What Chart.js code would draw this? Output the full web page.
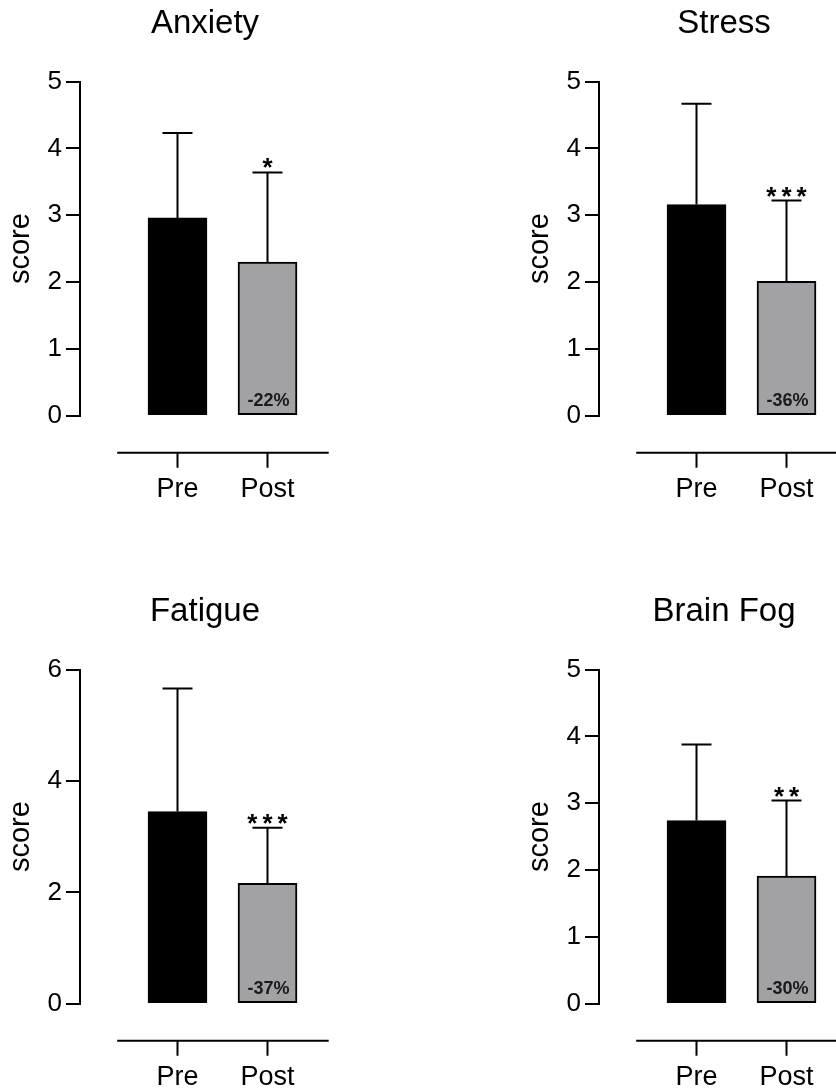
<!DOCTYPE html>
<html>
<head>
<meta charset="utf-8">
<script src="https://cdn.jsdelivr.net/npm/chart.js@4.4.1/dist/chart.umd.min.js"></script>
<style>
  html, body { margin: 0; padding: 0; background: #fff; overflow: hidden; }
  #wrap { position: relative; width: 836px; height: 1088px; overflow: hidden; }
  #wrap canvas { position: absolute; }
</style>
</head>
<body>
<div id="wrap">
  <canvas id="panel0" width="330" height="500" style="left:0px;top:0px"></canvas>
  <canvas id="panel1" width="330" height="500" style="left:519px;top:0px"></canvas>
  <canvas id="panel2" width="330" height="500" style="left:0px;top:588px"></canvas>
  <canvas id="panel3" width="330" height="500" style="left:519px;top:588px"></canvas>
</div>
<script>
// values (mean + upper SD bar)
const titles = ['Anxiety', 'Stress', 'Fatigue', 'Brain Fog'];
const groups = ['Pre', 'Post'];
const preMean = [2.96, 3.16, 3.45, 2.74];
const preSD = [1.27, 1.51, 2.21, 1.14];
const postMean = [2.30, 2.01, 2.16, 1.91];
const postSD = [1.34, 1.21, 1.00, 1.13];
const changeLabels = ['-22%', '-36%', '-37%', '-30%'];
const stars = ['*', '***', '***', '**'];
const yMax = [5, 5, 6, 5];
const yStep = [1, 1, 2, 1];

const FONT = '"Liberation Sans", Arial, Helvetica, sans-serif';
Chart.defaults.font.family = FONT;
Chart.defaults.color = '#000';

// error bars, stars, % change and the detached x axis line
const panelMarks = {
    id: 'panelMarks',
    afterDatasetsDraw(chart, args, opts) {
        const { ctx } = chart;
        const x = chart.scales.x;
        const y = chart.scales.y;
        const meta = chart.getDatasetMeta(0);
        const means = chart.data.datasets[0].data.map(d => d.y);
        ctx.save();
        ctx.strokeStyle = '#000';
        ctx.lineWidth = 2;

        meta.data.forEach((bar, i) => {
            const yTop = y.getPixelForValue(means[i] + opts.sd[i]);
            ctx.beginPath();
            ctx.moveTo(bar.x, bar.y);
            ctx.lineTo(bar.x, yTop);
            ctx.moveTo(bar.x - 15, yTop);
            ctx.lineTo(bar.x + 15, yTop);
            ctx.stroke();
        });

        const post = meta.data[1];
        const capY = y.getPixelForValue(means[1] + opts.sd[1]);
        ctx.fillStyle = '#000';
        ctx.textAlign = 'center';
        ctx.textBaseline = 'alphabetic';
        ctx.font = 'bold 26px ' + FONT;
        ctx.letterSpacing = '5px';
        ctx.fillText(opts.star, post.x + 2.5, capY + 4);
        ctx.letterSpacing = '0px';

        ctx.font = 'bold 18px ' + FONT;
        ctx.fillStyle = '#1a1a1a';
        ctx.fillText(opts.change, post.x + 1, y.getPixelForValue(0) - 10);

        // x axis sits below the zero line, GraphPad style
        const axisY = y.getPixelForValue(0) + 37;
        ctx.beginPath();
        ctx.moveTo(x.getPixelForValue(1 - 0.67), axisY);
        ctx.lineTo(x.getPixelForValue(2 + 0.68), axisY);
        groups.forEach((g, i) => {
            const px = x.getPixelForValue(i + 1);
            ctx.moveTo(px, axisY);
            ctx.lineTo(px, axisY + 15);
        });
        ctx.stroke();
        ctx.restore();
    }
};

titles.forEach((title, p) => {
    const ctx = document.getElementById('panel' + p).getContext('2d');
    new Chart(ctx, {
        type: 'bar',
        data: {
            datasets: [{
                data: [
                    { x: 1, y: preMean[p] },
                    { x: 2, y: postMean[p] }
                ],
                backgroundColor: ['#000000', '#a2a1a6'],
                borderColor: '#000',
                borderWidth: 2,
                borderSkipped: false,
                barThickness: 59
            }]
        },
        options: {
            responsive: false,
            animation: false,
            devicePixelRatio: 1,
            layout: { padding: 0 },
            plugins: {
                legend: { display: false },
                tooltip: { enabled: false },
                title: {
                    display: true,
                    text: title,
                    fullSize: false,
                    color: '#000',
                    font: { size: 33, weight: 'normal' },
                    padding: { top: 4, bottom: 38 }
                },
                panelMarks: {
                    sd: [preSD[p], postSD[p]],
                    star: stars[p],
                    change: changeLabels[p]
                }
            },
            scales: {
                x: {
                    type: 'linear',
                    offset: false,
                    min: -1 / 12,
                    max: 2.6944,
                    afterBuildTicks: s => { s.ticks = groups.map((g, i) => ({ value: i + 1 })); },
                    afterFit: s => { s.height = 84.3; },
                    ticks: {
                        callback: v => groups[v - 1],
                        color: '#000',
                        font: { size: 27 },
                        padding: 4,
                        maxRotation: 0,
                        autoSkip: false
                    },
                    // invisible tick marks only push the labels down
                    grid: {
                        display: true,
                        drawOnChartArea: false,
                        offset: false,
                        color: 'rgba(0,0,0,0)',
                        tickLength: 54
                    },
                    border: { display: false }
                },
                y: {
                    min: 0,
                    max: yMax[p],
                    afterFit: s => { s.width = 80; },
                    ticks: {
                        stepSize: yStep[p],
                        color: '#000',
                        font: { size: 26 },
                        padding: 4
                    },
                    grid: {
                        drawOnChartArea: false,
                        color: '#000',
                        lineWidth: 2,
                        tickLength: 14
                    },
                    border: { display: true, color: '#000', width: 2 },
                    title: {
                        display: true,
                        text: 'score',
                        color: '#000',
                        font: { size: 29 },
                        padding: { top: 4, bottom: 0 }
                    }
                }
            }
        },
        plugins: [panelMarks]
    });
});
</script>
</body>
</html>
